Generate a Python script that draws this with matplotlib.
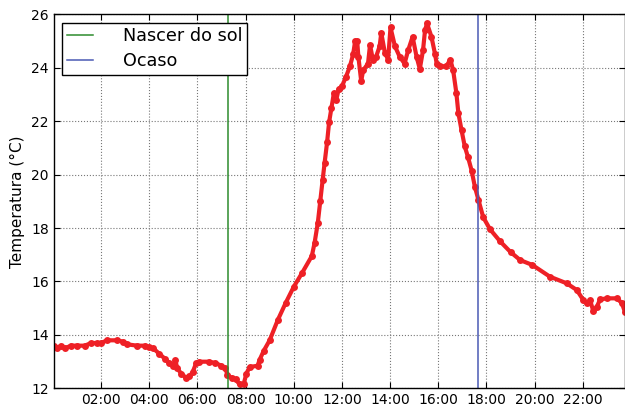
import pandas as pd
import matplotlib
matplotlib.use("Agg")
import matplotlib.pyplot as plt
import matplotlib.dates as mdates

# leituras de temperatura ao longo do dia (hora, °C)
horas = ["00:02", "00:10", "00:20", "00:30", "00:45", "01:00", "01:20", "01:35", "01:50", "02:00",
         "02:15", "02:40", "02:55", "03:05", "03:30", "03:50", "04:00", "04:10", "04:25", "04:40",
         "04:50", "05:00", "05:05", "05:10", "05:20", "05:32", "05:40", "05:48", "05:57", "06:05",
         "06:30", "06:45", "07:00", "07:10", "07:15", "07:25", "07:35", "07:45", "07:55", "08:02",
         "08:10", "08:30", "08:35", "08:45", "09:00", "09:20", "09:40", "10:00", "10:20", "10:45",
         "10:52", "11:00", "11:06", "11:12", "11:17", "11:23", "11:28", "11:34", "11:40", "11:46",
         "11:52", "12:00", "12:10", "12:20", "12:28", "12:33", "12:38", "12:41", "12:48", "12:53",
         "13:05", "13:10", "13:17", "13:25", "13:34", "13:38", "13:47", "13:55", "14:01", "14:12",
         "14:24", "14:36", "14:45", "14:56", "15:06", "15:14", "15:22", "15:27", "15:32", "15:43",
         "15:52", "15:56", "16:05", "16:20", "16:30", "16:37", "16:45", "16:50", "16:58", "17:06",
         "17:14", "17:23", "17:31", "17:40", "17:52", "18:09", "18:34", "19:00", "19:24", "19:54",
         "20:38", "21:20", "21:45", "22:01", "22:10", "22:18", "22:26", "22:35", "22:43", "23:00",
         "23:24", "23:37", "23:45"]
temperatura = [13.6, 13.5, 13.6, 13.5, 13.6, 13.6, 13.6, 13.7, 13.7, 13.7,
               13.8, 13.8, 13.75, 13.65, 13.6, 13.6, 13.55, 13.5, 13.3, 13.1,
               12.95, 12.85, 13.07, 12.75, 12.55, 12.4, 12.45, 12.6, 12.95, 13.0,
               13.0, 12.95, 12.85, 12.75, 12.5, 12.4, 12.35, 12.15, 12.15, 12.55,
               12.8, 12.85, 13.07, 13.4, 13.8, 14.55, 15.2, 15.8, 16.3, 16.95,
               17.45, 18.2, 19.0, 19.8, 20.45, 21.2, 21.95, 22.5, 23.05, 22.8,
               23.2, 23.3, 23.65, 24.05, 24.5, 25.0, 25.0, 24.4, 23.5, 23.9,
               24.15, 24.85, 24.3, 24.4, 24.8, 25.3, 24.55, 24.3, 25.5, 24.8,
               24.4, 24.15, 24.65, 25.15, 24.4, 23.95, 24.65, 25.4, 25.65, 25.15,
               24.5, 24.15, 24.05, 24.05, 24.3, 23.9, 23.05, 22.3, 21.65, 21.05,
               20.65, 20.15, 19.55, 19.05, 18.4, 17.95, 17.5, 17.1, 16.8, 16.62,
               16.18, 15.93, 15.68, 15.31, 15.18, 15.3, 14.9, 15.06, 15.33, 15.37,
               15.37, 15.2, 14.85]

nascer_do_sol = "07:17"
ocaso = "17:38"
yticks = [12, 14, 16, 18, 20, 22, 24, 26]

dia = "2014-03-01 "
t = pd.to_datetime([dia + h for h in horas])

fig = plt.figure(figsize=(6.25, 4.15), dpi=100)
ax = fig.add_axes([0.0858, 0.064, 0.9142, 0.902])

ax.plot(t, temperatura, "-", color="#ee2026", linewidth=3, solid_capstyle="round")
ax.plot(t, temperatura, "o", color="#ee2026", markersize=5, markeredgewidth=0)

ax.axvline(pd.Timestamp(dia + nascer_do_sol), color="#2e8b2e", linewidth=1.1, label="Nascer do sol")
ax.axvline(pd.Timestamp(dia + ocaso), color="#4a5ab4", linewidth=1.1, label="Ocaso")

ax.set_xlim(t[0], t[-1])
ax.set_ylim(12, 26)
ax.set_yticks(yticks)
ax.xaxis.set_major_locator(mdates.HourLocator(byhour=range(0, 24, 2)))
ax.xaxis.set_major_formatter(mdates.DateFormatter("%H:%M"))

ax.grid(True, linestyle=":", color="#777777", linewidth=0.8)
ax.tick_params(direction="in", top=True, right=True, labelsize=10, length=4)
for s in ax.spines.values():
    s.set_linewidth(1.0)

ax.set_ylabel("Temperatura (°C)", fontsize=11, labelpad=4)

leg = ax.legend(loc="upper left", fontsize=12.7, fancybox=False, framealpha=1,
                handlelength=1.5, handletextpad=1.7, borderaxespad=0.5, borderpad=0.25,
                labelspacing=0.4)
leg.get_frame().set_edgecolor("black")
leg.get_frame().set_linewidth(1.0)

fig.savefig("out.png", dpi=100)
